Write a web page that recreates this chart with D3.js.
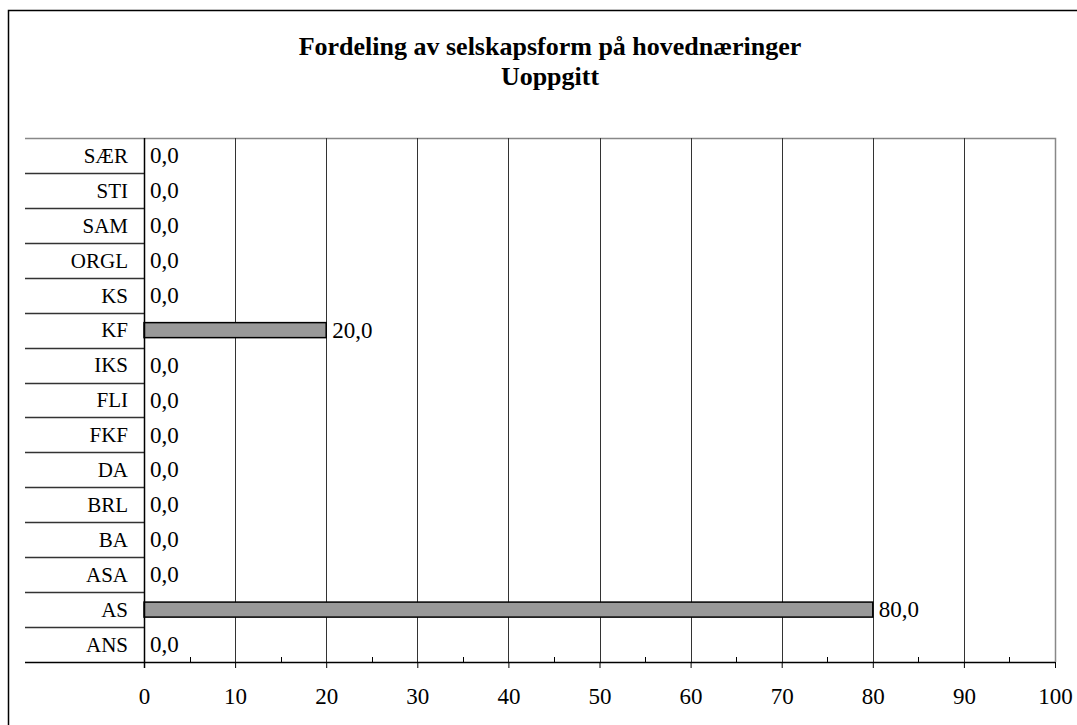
<!DOCTYPE html>
<html>
<head>
<meta charset="utf-8">
<script src="https://cdn.jsdelivr.net/npm/d3@7"></script>
<style>
  body { margin: 0; background: #fff; }
  text { font-family: "Liberation Serif", "Times New Roman", serif; fill: #000; }
  .title { font-weight: bold; font-size: 26px; }
  .cat-label { font-size: 21px; }
  .value-label { font-size: 23px; }
</style>
</head>
<body>
<div id="chart"></div>
<script>
// categories from top to bottom as shown
var categories = ["SÆR", "STI", "SAM", "ORGL", "KS", "KF", "IKS", "FLI", "FKF", "DA", "BRL", "BA", "ASA", "AS", "ANS"];
var values = [0, 0, 0, 0, 0, 20, 0, 0, 0, 0, 0, 0, 0, 80, 0];
var xTicks = [0, 10, 20, 30, 40, 50, 60, 70, 80, 90, 100];
var minorTicks = [5, 15, 25, 35, 45, 55, 65, 75, 85, 95];
var titleLines = ["Fordeling av selskapsform på hovednæringer", "Uoppgitt"];

var W = 1077, H = 725;
var margin = {top: 138, right: 22, bottom: 63, left: 144};
var width = W - margin.left - margin.right,
    height = H - margin.top - margin.bottom;

var fmt = function(v) { return v.toFixed(1).replace(".", ","); };

var svg = d3.select("#chart").append("svg")
  .attr("width", W)
  .attr("height", H);

// outer chart border (runs off right and bottom)
svg.append("path")
  .attr("d", "M8.5," + H + " L8.5,10.5 L" + W + ",10.5")
  .attr("fill", "none")
  .attr("stroke", "#000")
  .attr("stroke-width", 1.5);

// title
svg.selectAll("text.title").data(titleLines).enter().append("text")
  .attr("class", "title")
  .attr("x", 550)
  .attr("y", function(d, i) { return 55 + i * 30; })
  .attr("text-anchor", "middle")
  .text(function(d) { return d; });

var g = svg.append("g")
  .attr("transform", "translate(" + margin.left + "," + margin.top + ")");

var x = d3.scaleLinear().domain([0, 100]).range([0, width]);
var y = d3.scaleBand().domain(categories).range([0, height]).paddingInner(0.57).paddingOuter(0.285);
var yRow = d3.scaleBand().domain(categories).range([0, height]);

// plot area top and right border
g.append("path")
  .attr("d", "M" + (25 - margin.left) + ",0.5 L" + (width + 0.5) + ",0.5 L" + (width + 0.5) + "," + height)
  .attr("fill", "none")
  .attr("stroke", "#888")
  .attr("stroke-width", 1.5);

// vertical gridlines
g.selectAll(".grid").data(xTicks.slice(1, -1)).enter().append("line")
  .attr("x1", function(d) { return Math.round(x(d)) + 0.5; })
  .attr("x2", function(d) { return Math.round(x(d)) + 0.5; })
  .attr("y1", 0)
  .attr("y2", height)
  .attr("stroke", "#333")
  .attr("stroke-width", 1);

// category separators extending left across labels
g.selectAll(".sep").data(categories.slice(1)).enter().append("line")
  .attr("x1", 25 - margin.left)
  .attr("x2", 0)
  .attr("y1", function(d) { return Math.round(yRow(d)) + 0.5; })
  .attr("y2", function(d) { return Math.round(yRow(d)) + 0.5; })
  .attr("stroke", "#333")
  .attr("stroke-width", 1.5);

// category labels
g.selectAll(".cat").data(categories).enter().append("text")
  .attr("class", "cat-label")
  .attr("x", -16)
  .attr("y", function(d) { return yRow(d) + yRow.bandwidth() / 2; })
  .attr("dy", "0.35em")
  .attr("text-anchor", "end")
  .text(function(d) { return d; });

// bars
g.selectAll(".bar").data(values).enter().append("rect")
  .filter(function(d) { return d > 0; })
  .attr("x", 0)
  .attr("y", function(d) { return y(categories[values.indexOf(d)]); })
  .attr("width", function(d) { return x(d); })
  .attr("height", y.bandwidth())
  .attr("fill", "#999999")
  .attr("stroke", "#000")
  .attr("stroke-width", 1.5);

// value labels
g.selectAll(".val").data(values).enter().append("text")
  .attr("class", "value-label")
  .attr("x", function(d) { return x(d) + 6; })
  .attr("y", function(d, i) { return yRow(categories[i]) + yRow.bandwidth() / 2; })
  .attr("dy", "0.33em")
  .text(function(d) { return fmt(d); });

// y axis line
g.append("line")
  .attr("x1", 0.5).attr("x2", 0.5)
  .attr("y1", 0).attr("y2", height + 6)
  .attr("stroke", "#000")
  .attr("stroke-width", 1.5);

// x axis
var xAxis = d3.axisBottom(x).tickValues(xTicks).tickSize(6).tickPadding(20).tickFormat(d3.format("d"));
var ax = g.append("g")
  .attr("transform", "translate(0," + height + ")")
  .call(xAxis);
ax.select(".domain").remove();
ax.selectAll("text").style("font-size", "23px").style("font-family", "Liberation Serif, serif");
ax.selectAll(".tick line").attr("stroke", "#000");

// minor ticks pointing up
g.selectAll(".minor").data(minorTicks).enter().append("line")
  .attr("x1", function(d) { return Math.round(x(d)) + 0.5; })
  .attr("x2", function(d) { return Math.round(x(d)) + 0.5; })
  .attr("y1", height - 5)
  .attr("y2", height)
  .attr("stroke", "#000");

// axis baseline extending left
g.append("line")
  .attr("x1", 25 - margin.left).attr("x2", width)
  .attr("y1", height + 0.5).attr("y2", height + 0.5)
  .attr("stroke", "#000")
  .attr("stroke-width", 1.5);
</script>
</body>
</html>
